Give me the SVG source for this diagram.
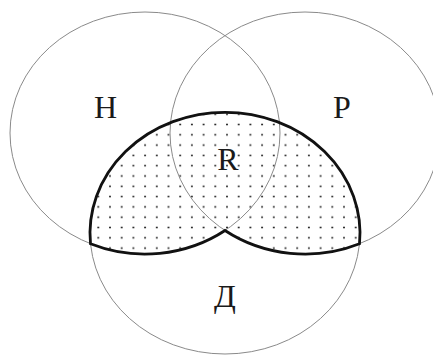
<svg xmlns="http://www.w3.org/2000/svg" width="433" height="356" viewBox="0 0 433 356">
<style>
.set{fill:none;stroke:#8a8a8a;stroke-width:1}
.fillarea{fill:url(#dots);stroke:none}
.outline{fill:none;stroke:#111;stroke-width:2.8;stroke-linejoin:miter}
.lbl{font-family:"Liberation Serif","DejaVu Serif",serif;font-size:32px;fill:#1a1a1a;text-anchor:middle}
</style>
<defs>
<pattern id="dots" patternUnits="userSpaceOnUse" x="104.15" y="170.85" width="11.7" height="10.3">
<circle cx="5.85" cy="5.15" r="1" fill="#222"/>
</pattern>
<path id="rshape" d="M90.5 243.7 A135 121 0 1 1 359.5 243.7 A135 121 0 0 1 225 230.5 A135 121 0 0 1 90.5 243.7 Z"/>
</defs>
<rect width="433" height="356" fill="#fff"/>
<use href="#rshape" class="fillarea"/>
<g id="node-H">
<ellipse class="set" cx="145" cy="133" rx="135" ry="121"/>
<text class="lbl" x="105.5" y="118">Н</text>
</g>
<g id="node-P">
<ellipse class="set" cx="305" cy="133" rx="135" ry="121"/>
<text class="lbl" x="342" y="118">Р</text>
</g>
<g id="node-D">
<ellipse class="set" cx="225" cy="233" rx="135" ry="121"/>
<text class="lbl" x="225" y="307">Д</text>
</g>
<g id="connectors">
<use href="#rshape" class="outline"/>
</g>
<g id="label-R">
<text class="lbl" x="228" y="170">R</text>
</g>
</svg>
